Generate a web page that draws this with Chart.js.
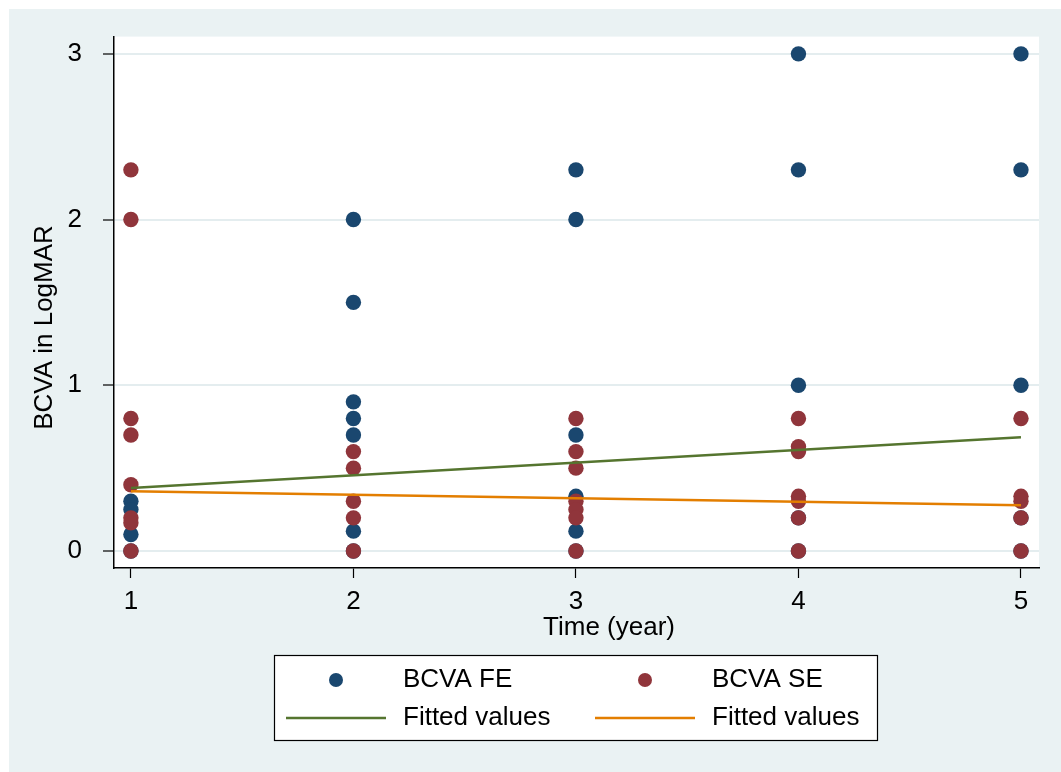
<!DOCTYPE html>
<html>
<head>
<meta charset="utf-8">
<title>BCVA over time</title>
<script src="https://cdn.jsdelivr.net/npm/chart.js@4/dist/chart.umd.min.js"></script>
<style>
  html, body { margin: 0; padding: 0; background: #ffffff; }
  canvas { display: block; }
</style>
</head>
<body>
<canvas id="chart" width="1061" height="772"></canvas>
<script>
// Follow-up years
const timeYears = [1, 2, 3, 4, 5];

// BCVA (LogMAR) of the first eye, one list per follow-up year
const bcvaFE = [
  [0.3, 0.25, 0.1, 0],
  [2.0, 1.5, 0.9, 0.8, 0.7, 0.12, 0],
  [2.3, 2.0, 0.7, 0.33, 0.12, 0],
  [3.0, 2.3, 1.0, 0.2, 0],
  [3.0, 2.3, 1.0, 0.2, 0]
];

// BCVA (LogMAR) of the second eye, one list per follow-up year
const bcvaSE = [
  [2.3, 2.0, 0.8, 0.7, 0.4, 0.2, 0.17, 0],
  [0.6, 0.5, 0.3, 0.2, 0],
  [0.8, 0.6, 0.5, 0.3, 0.25, 0.2, 0],
  [0.8, 0.63, 0.6, 0.33, 0.3, 0.2, 0],
  [0.8, 0.33, 0.3, 0.2, 0]
];

// Linear fits (fitted values at first and last year)
const fitYears = [1, 5];
const fitFE = [0.38, 0.687];
const fitSE = [0.36, 0.276];

// Axis ticks and labels
const xTicks = [1, 2, 3, 4, 5];
const yTicks = [0, 1, 2, 3];
const xTitle = 'Time (year)';
const yTitle = 'BCVA in LogMAR';
const legendLabels = ['BCVA FE', 'BCVA SE', 'Fitted values', 'Fitted values'];

const COLORS = {
  fe: '#1a476f',
  se: '#90353b',
  fitFE: '#55752f',
  fitSE: '#e37e00',
  region: '#eaf2f3',
  grid: '#e4edef'
};
const FONT = '"Liberation Sans", Arial, Helvetica, sans-serif';

function toPoints(years, groups) {
  const pts = [];
  groups.forEach((vals, i) => vals.forEach(v => pts.push({ x: years[i], y: v })));
  return pts;
}
function toLine(xs, ys) {
  return xs.map((x, i) => ({ x: x, y: ys[i] }));
}

// Background: graph region and white plot region
const backgroundPlugin = {
  id: 'stataBackground',
  beforeDraw(chart) {
    const { ctx, chartArea: a, width, height } = chart;
    ctx.save();
    ctx.fillStyle = '#ffffff';
    ctx.fillRect(0, 0, width, height);
    ctx.fillStyle = COLORS.region;
    ctx.fillRect(9, 9, width - 9, height - 9);
    ctx.fillStyle = '#ffffff';
    ctx.fillRect(a.left, a.top, a.right - a.left, a.bottom - a.top);
    ctx.restore();
  }
};

// Axis titles and the boxed two-column legend
const annotationPlugin = {
  id: 'titlesAndLegend',
  afterDraw(chart) {
    const { ctx } = chart;
    ctx.save();
    ctx.fillStyle = '#000';
    ctx.font = '26px ' + FONT;

    // x title
    ctx.textAlign = 'center';
    ctx.textBaseline = 'alphabetic';
    ctx.fillText(xTitle, 609, 635);

    // y title
    ctx.save();
    ctx.translate(52, 327.5);
    ctx.rotate(-Math.PI / 2);
    ctx.fillText(yTitle, 0, 0);
    ctx.restore();

    // legend box
    const bx = 274.5, by = 655.5, bw = 603, bh = 85;
    ctx.fillStyle = '#ffffff';
    ctx.fillRect(bx, by, bw, bh);
    ctx.strokeStyle = '#000';
    ctx.lineWidth = 1.2;
    ctx.strokeRect(bx, by, bw, bh);

    const row1 = 680, row2 = 718;
    // markers
    ctx.fillStyle = COLORS.fe;
    ctx.beginPath(); ctx.arc(336, row1, 7, 0, Math.PI * 2); ctx.fill();
    ctx.fillStyle = COLORS.se;
    ctx.beginPath(); ctx.arc(645, row1, 7, 0, Math.PI * 2); ctx.fill();
    // line keys
    ctx.lineWidth = 2.5;
    ctx.strokeStyle = COLORS.fitFE;
    ctx.beginPath(); ctx.moveTo(286, row2); ctx.lineTo(386, row2); ctx.stroke();
    ctx.strokeStyle = COLORS.fitSE;
    ctx.beginPath(); ctx.moveTo(595, row2); ctx.lineTo(695, row2); ctx.stroke();
    // labels
    ctx.fillStyle = '#000';
    ctx.textAlign = 'left';
    ctx.textBaseline = 'middle';
    ctx.fillText(legendLabels[0], 403, row1);
    ctx.fillText(legendLabels[1], 712, row1);
    ctx.fillText(legendLabels[2], 403, row2);
    ctx.fillText(legendLabels[3], 712, row2);
    ctx.restore();
  }
};

new Chart(document.getElementById('chart'), {
  type: 'scatter',
  data: {
    datasets: [
      {
        label: legendLabels[0],
        data: toPoints(timeYears, bcvaFE),
        backgroundColor: COLORS.fe,
        borderWidth: 0,
        pointRadius: 7.7,
        order: 4
      },
      {
        label: legendLabels[1],
        data: toPoints(timeYears, bcvaSE),
        backgroundColor: COLORS.se,
        borderWidth: 0,
        pointRadius: 7.7,
        order: 3
      },
      {
        label: legendLabels[2],
        data: toLine(fitYears, fitFE),
        showLine: true,
        borderColor: COLORS.fitFE,
        borderWidth: 2.5,
        pointRadius: 0,
        order: 2
      },
      {
        label: legendLabels[3],
        data: toLine(fitYears, fitSE),
        showLine: true,
        borderColor: COLORS.fitSE,
        borderWidth: 2.5,
        pointRadius: 0,
        order: 1
      }
    ]
  },
  options: {
    responsive: false,
    animation: false,
    devicePixelRatio: 1,
    layout: { padding: { left: 0, top: 36, right: 22, bottom: 0 } },
    plugins: {
      legend: { display: false },
      tooltip: { enabled: false },
      title: { display: false }
    },
    scales: {
      x: {
        type: 'linear',
        min: 0.924,
        max: 5.081,
        afterFit(scale) { scale.height = 204; },
        afterBuildTicks(scale) { scale.ticks = xTicks.map(v => ({ value: v })); },
        grid: {
          drawOnChartArea: false,
          drawTicks: true,
          tickLength: 10,
          tickColor: '#000',
          tickWidth: 1.2
        },
        border: { display: true, color: '#000', width: 1.5 },
        ticks: {
          color: '#000',
          font: { family: FONT, size: 26 },
          padding: 8,
          maxRotation: 0,
          callback: v => String(v)
        }
      },
      y: {
        type: 'linear',
        min: -0.1025,
        max: 3.104,
        afterFit(scale) { scale.width = 114; },
        afterBuildTicks(scale) { scale.ticks = yTicks.map(v => ({ value: v })); },
        grid: {
          color: COLORS.grid,
          lineWidth: 2,
          drawTicks: true,
          tickLength: 11,
          tickColor: '#000',
          tickWidth: 1.2
        },
        border: { display: true, color: '#000', width: 1.5 },
        ticks: {
          color: '#000',
          font: { family: FONT, size: 26 },
          padding: 21,
          callback: v => String(v)
        }
      }
    }
  },
  plugins: [backgroundPlugin, annotationPlugin]
});
</script>
</body>
</html>
